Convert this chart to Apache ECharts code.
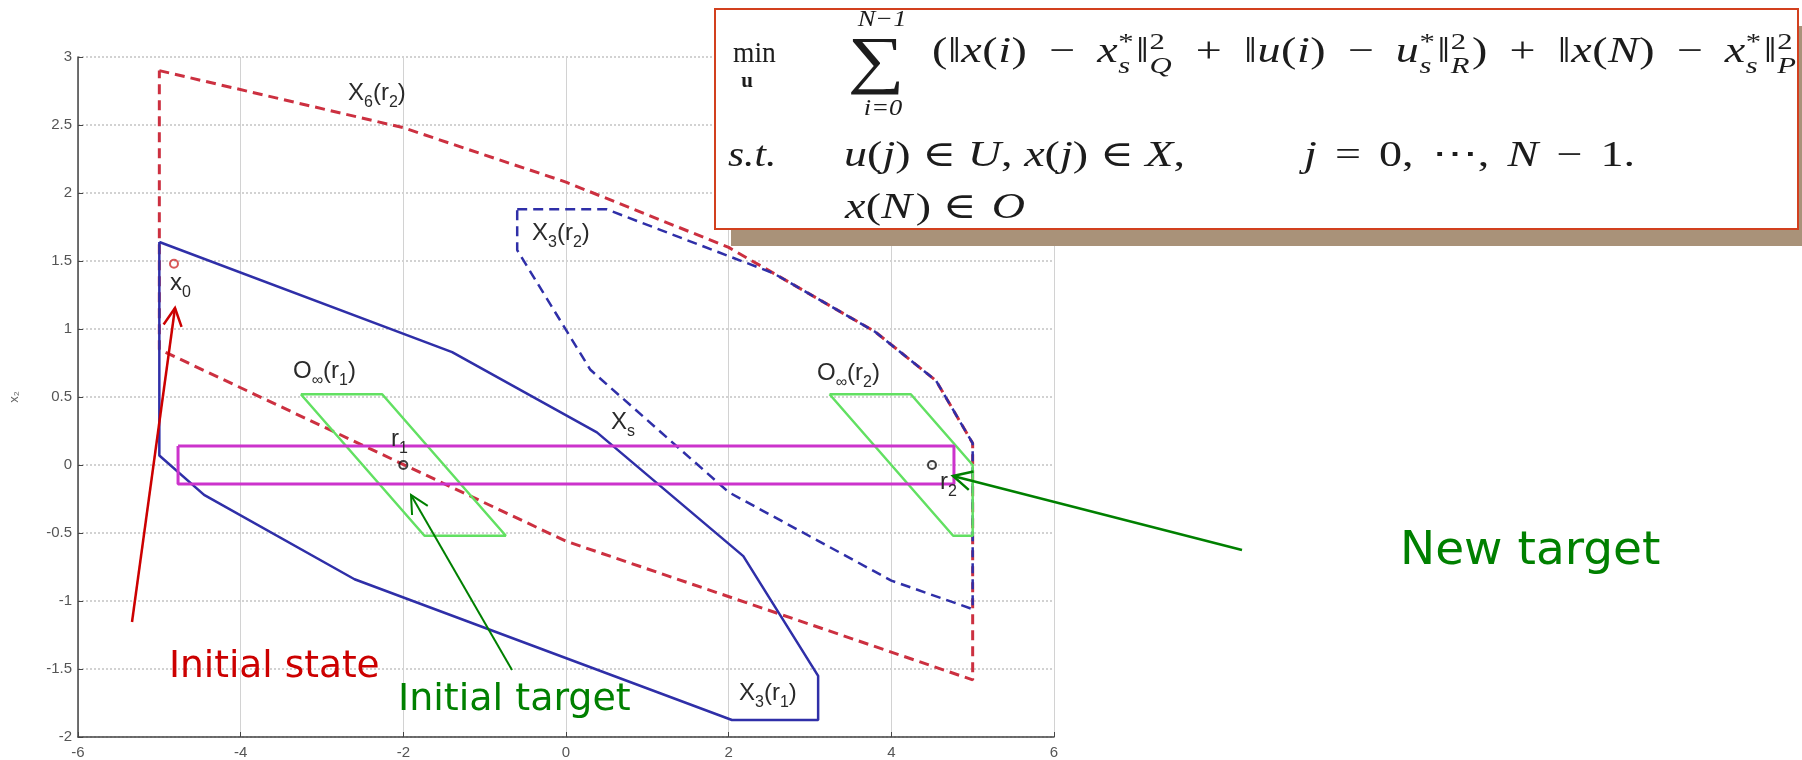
<!DOCTYPE html>
<html>
<head>
<meta charset="utf-8">
<script src="https://cdn.jsdelivr.net/npm/echarts@6/dist/echarts.min.js"></script>
<style>
  html, body { margin: 0; padding: 0; background: #ffffff; }
  #chart { width: 1802px; height: 760px; }
</style>
</head>
<body>
<div id="chart"></div>
<script>
// ---- axis ranges ----
const xRange = [-6, 6];
const yRange = [-2, 3];
const xStep = 2;
const yStep = 0.5;

// ---- sets in the (x1, x2) state plane, closed vertex lists ----
// X6(r2): 6-step controllable set for the new target
const setX6r2 = [[-5, 2.9], [-2, 2.48], [0, 2.08], [2.0, 1.6], [3.8, 0.98], [4.55, 0.62], [5, 0.16], [5, -1.58], [0, -0.56], [-5, 0.85], [-5, 2.9]];
// X3(r2): 3-step controllable set for the new target
const setX3r2 = [[-0.6, 1.88], [0.5, 1.88], [2.55, 1.41], [3.8, 0.98], [4.55, 0.62], [5, 0.16], [5, -1.06], [4.0, -0.85], [2.0, -0.2], [0.3, 0.7], [-0.6, 1.58], [-0.6, 1.88]];
// X3(r1): 3-step controllable set for the initial target
const setX3r1 = [[-5, 1.64], [-1.4, 0.83], [0.38, 0.24], [2.18, -0.67], [3.1, -1.55], [3.1, -1.875], [2.04, -1.875], [-2.6, -0.84], [-4.45, -0.22], [-5, 0.07], [-5, 1.64]];
// O_inf(r1) and O_inf(r2): invariant sets around each target
const setOr1 = [[-3.26, 0.52], [-2.26, 0.52], [-0.74, -0.52], [-1.74, -0.52], [-3.26, 0.52]];
const setOr2 = [[3.24, 0.52], [4.24, 0.52], [5, 0.0], [5, -0.52], [4.76, -0.52], [3.24, 0.52]];
// Xs: set of admissible steady states
const setXs = [[-4.77, 0.14], [4.77, 0.14], [4.77, -0.14], [-4.77, -0.14], [-4.77, 0.14]];
// initial state and the two targets
const initialState = [[-4.82, 1.48]];
const targetPoints = [[-2, 0], [4.5, 0]];

// ---- styling ----
const RED_D = '#cc3040';
const BLUE = '#2f2fa8';
const GREEN_SET = '#62e062';
const MAGENTA = '#cc33cc';
const ANN_RED = '#cc0000';
const ANN_GREEN = '#008000';
const LABEL = '#2a2a2a';
const INK = '#1c1c1c';
const SERIF = "'Liberation Serif', 'DejaVu Serif', serif";
const SANS = "'Liberation Sans', Arial, sans-serif";
const CAPTION = "'DejaVu Sans', Verdana, sans-serif";
const MATH_SX = 1.28;   // horizontal stretch for the formula glyphs

function polySeries(name, data, color, width, dashed, z) {
  return {
    type: 'line', name: name, data: data, symbol: 'none', silent: true, z: z,
    animation: false,
    lineStyle: { color: color, width: width, type: dashed ? [10, 6] : 'solid' }
  };
}

const chart = echarts.init(document.getElementById('chart'), null, { renderer: 'canvas' });

// ---- text helpers for labels and the formula ----
const measureCtx = document.createElement('canvas').getContext('2d');
function textW(t, size, italic, bold, family) {
  measureCtx.font = (italic ? 'italic ' : 'normal ') + (bold ? 'bold ' : 'normal ') + size + 'px ' + family;
  return measureCtx.measureText(t).width;
}
// text whose alphabetic baseline sits at y
function txt(x, base, t, size, opts) {
  opts = opts || {};
  return {
    type: 'text', x: x, y: base - 0.34 * size, z: opts.z || 120, silent: true,
    scaleX: opts.scaleX || 1,
    style: {
      text: t, fill: opts.color || INK, fontSize: size,
      fontFamily: opts.family || SERIF,
      fontStyle: opts.italic ? 'italic' : 'normal',
      fontWeight: opts.bold ? 'bold' : 'normal',
      align: opts.align || 'left', verticalAlign: 'middle'
    }
  };
}

// lay out a row of math tokens between x0 and xEnd; the remaining room is shared
// out evenly on both sides of the operator tokens (those holding spaces)
function mathRow(x0, xEnd, base, size, tokens, out) {
  const sx = MATH_SX;
  const items = tokens.map(function (tk) {
    if (typeof tk === 'string') tk = { t: tk };
    const s = Math.round(size * 0.66);
    let w;
    if (tk.sup !== undefined || tk.sub !== undefined) {
      w = Math.max(tk.sup !== undefined ? textW(tk.sup, s, tk.supIt, false, SERIF) : 0,
                   tk.sub !== undefined ? textW(tk.sub, s, tk.subIt, false, SERIF) : 0) * sx + 2;
    } else {
      w = textW(tk.t, size, tk.it, false, SERIF) * sx;
    }
    return { tk: tk, w: w, s: s, op: !!(tk.t && tk.t.indexOf(' ') >= 0) };
  });
  const natural = items.reduce(function (a, it) { return a + it.w; }, 0);
  const nOps = items.filter(function (it) { return it.op; }).length;
  const nGaps = items.length - 1;
  const extra = (xEnd - x0) - natural;
  const opShare = nOps ? extra * 0.85 / nOps : 0;
  const plainShare = extra * (nOps ? 0.15 : 1) / nGaps;
  let x = x0;
  items.forEach(function (it, i) {
    const tk = it.tk;
    if (it.op) x += opShare / 2;
    if (tk.sup !== undefined || tk.sub !== undefined) {
      if (tk.sup !== undefined) out.push(txt(x, base - size * 0.4, tk.sup, it.s, { italic: tk.supIt, scaleX: sx }));
      if (tk.sub !== undefined) out.push(txt(x, base + size * 0.26, tk.sub, it.s, { italic: tk.subIt, scaleX: sx }));
    } else {
      out.push(txt(x, base, tk.t, size, { italic: tk.it, scaleX: sx }));
    }
    x += it.w + (it.op ? opShare / 2 : 0) + (i < nGaps ? plainShare : 0);
  });
}

// label like X_3(r_2): main glyphs with lowered small characters
function setLabel(x, cy, parts, out) {
  const big = 24, small = 16;
  let cx = x;
  parts.forEach(function (p) {
    const sub = p[1];
    const size = sub ? small : big;
    out.push({
      type: 'text', x: cx, y: cy + (sub ? 10 : 0), z: 60, silent: true,
      style: { text: p[0], fill: LABEL, fontSize: size, fontFamily: SANS, align: 'left', verticalAlign: 'middle' }
    });
    cx += textW(p[0], size, false, false, SANS);
  });
}

function arrow(x1, y1, x2, y2, color, w, len) {
  const a = Math.atan2(y1 - y2, x1 - x2), s = 0.47;
  return [
    { type: 'line', z: 90, silent: true, shape: { x1: x1, y1: y1, x2: x2, y2: y2 }, style: { stroke: color, lineWidth: w } },
    { type: 'polyline', z: 90, silent: true,
      shape: { points: [[x2 + len * Math.cos(a - s), y2 + len * Math.sin(a - s)], [x2, y2], [x2 + len * Math.cos(a + s), y2 + len * Math.sin(a + s)]] },
      style: { stroke: color, lineWidth: w, fill: null } }
  ];
}

const g = [];

// set labels
setLabel(348, 93, [['X'], ['6', 1], ['(r'], ['2', 1], [')']], g);
setLabel(532, 233, [['X'], ['3', 1], ['(r'], ['2', 1], [')']], g);
setLabel(611, 422, [['X'], ['s', 1]], g);
setLabel(293, 371, [['O'], ['\u221E', 1], ['(r'], ['1', 1], [')']], g);
setLabel(817, 373, [['O'], ['\u221E', 1], ['(r'], ['2', 1], [')']], g);
setLabel(391, 439, [['r'], ['1', 1]], g);
setLabel(940, 482, [['r'], ['2', 1]], g);
setLabel(170, 283, [['x'], ['0', 1]], g);
setLabel(739, 693, [['X'], ['3', 1], ['(r'], ['1', 1], [')']], g);

// annotation arrows and captions
Array.prototype.push.apply(g, arrow(132, 622, 175, 308, ANN_RED, 2.5, 20));
Array.prototype.push.apply(g, arrow(512, 670, 411, 495, ANN_GREEN, 2, 20));
Array.prototype.push.apply(g, arrow(1242, 550, 953, 476, ANN_GREEN, 2.5, 21));
g.push(txt(169, 680, 'Initial state', 37.5, { family: CAPTION, color: ANN_RED, z: 95 }));
g.push(txt(398, 713, 'Initial target', 38, { family: CAPTION, color: ANN_GREEN, z: 95 }));
g.push(txt(1400, 568, 'New target', 47, { family: CAPTION, color: ANN_GREEN, z: 95 }));

// optimisation problem box with its drop shadow
g.push({ type: 'rect', z: 100, silent: true, shape: { x: 731, y: 26, width: 1100, height: 220 }, style: { fill: '#a99279' } });
g.push({ type: 'rect', z: 101, silent: true, shape: { x: 715, y: 9, width: 1083, height: 220 }, style: { fill: '#ffffff', stroke: '#d2401e', lineWidth: 2 } });

const F = 36;
g.push(txt(733, 64, 'min', 29, { scaleX: 0.95 }));
g.push(txt(747, 89, 'u', 21, { bold: true, align: 'center' }));
g.push(txt(876, 86, '\u2211', 64, { align: 'center', scaleX: 1.25 }));
g.push(txt(882, 28, 'N\u22121', 23, { align: 'center', italic: true, scaleX: 1.15 }));
g.push(txt(883, 117, 'i=0', 23, { align: 'center', italic: true, scaleX: 1.15 }));
mathRow(932, 1798, 65, F, [
  '(', '\u2016', { t: 'x', it: 1 }, '(', { t: 'i', it: 1 }, ')', ' \u2212 ', { t: 'x', it: 1 }, { sup: '*', sub: 's', subIt: 1 },
  '\u2016', { sup: '2', sub: 'Q', subIt: 1 }, ' + ',
  '\u2016', { t: 'u', it: 1 }, '(', { t: 'i', it: 1 }, ')', ' \u2212 ', { t: 'u', it: 1 }, { sup: '*', sub: 's', subIt: 1 },
  '\u2016', { sup: '2', sub: 'R', subIt: 1 }, ')', ' + ',
  '\u2016', { t: 'x', it: 1 }, '(', { t: 'N', it: 1 }, ')', ' \u2212 ', { t: 'x', it: 1 }, { sup: '*', sub: 's', subIt: 1 },
  '\u2016', { sup: '2', sub: 'P', subIt: 1 }
], g);
g.push(txt(728, 169, 's.t.', F, { italic: true, scaleX: 1.15 }));
mathRow(844, 1185, 169, F, [
  { t: 'u', it: 1 }, '(', { t: 'j', it: 1 }, ') \u2208 ', { t: 'U', it: 1 }, ', ',
  { t: 'x', it: 1 }, '(', { t: 'j', it: 1 }, ') \u2208 ', { t: 'X', it: 1 }, ','
], g);
mathRow(1304, 1635, 169, F, [
  { t: 'j', it: 1 }, ' = ', '0,', ' \u22EF, ', { t: 'N', it: 1 }, ' \u2212 ', '1.'
], g);
mathRow(845, 1025, 221, F, [
  { t: 'x', it: 1 }, '(', { t: 'N', it: 1 }, ') \u2208 ', { t: 'O', it: 1 }
], g);

const option = {
  animation: false,
  backgroundColor: '#ffffff',
  grid: { left: 73, right: 748, top: 57, bottom: 23, containLabel: false },
  xAxis: {
    type: 'value', min: xRange[0], max: xRange[1], interval: xStep,
    axisLine: { show: true, onZero: false, lineStyle: { color: '#444', width: 1.5 } },
    axisTick: { show: true, inside: true, length: 5, lineStyle: { color: '#444' } },
    axisLabel: { color: '#555', fontSize: 15, fontFamily: SANS, margin: 8 },
    splitLine: { show: true, lineStyle: { color: '#d2d2d2', width: 1 } }
  },
  yAxis: {
    type: 'value', min: yRange[0], max: yRange[1], interval: yStep,
    name: 'x\u2082', nameLocation: 'middle', nameGap: 57, nameRotate: 90,
    nameTextStyle: { color: '#666', fontSize: 13, fontFamily: SANS },
    axisLine: { show: true, onZero: false, lineStyle: { color: '#444', width: 1.5 } },
    axisTick: { show: true, inside: true, length: 5, lineStyle: { color: '#444' } },
    axisLabel: { color: '#555', fontSize: 15, fontFamily: SANS, margin: 6 },
    splitLine: { show: true, lineStyle: { color: '#c4c4c4', width: 1.5, type: [2, 2] } }
  },
  series: [
    polySeries('X6(r2)', setX6r2, RED_D, 3, true, 3),
    polySeries('X3(r2)', setX3r2, BLUE, 2.5, true, 4),
    polySeries('X3(r1)', setX3r1, BLUE, 2.5, false, 5),
    polySeries('Oinf(r1)', setOr1, GREEN_SET, 2.5, false, 6),
    polySeries('Oinf(r2)', setOr2, GREEN_SET, 2.5, false, 6),
    polySeries('Xs', setXs, MAGENTA, 3, false, 7),
    {
      type: 'scatter', name: 'x0', data: initialState, symbol: 'circle', symbolSize: 8, z: 8,
      itemStyle: { color: 'rgba(0,0,0,0)', borderColor: '#d03030', borderWidth: 2 }
    },
    {
      type: 'scatter', name: 'targets', data: targetPoints, symbol: 'circle', symbolSize: 8, z: 8,
      itemStyle: { color: 'rgba(0,0,0,0)', borderColor: '#111', borderWidth: 2 }
    }
  ],
  graphic: g
};
chart.setOption(option);
</script>
</body>
</html>
